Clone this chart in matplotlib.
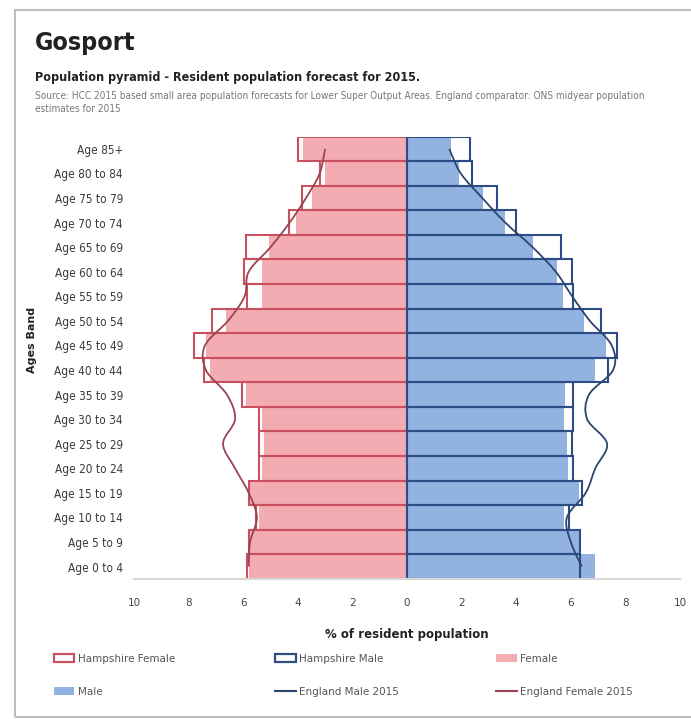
import numpy as np
import matplotlib
matplotlib.use("Agg")
import matplotlib.pyplot as plt
from matplotlib.path import Path
from matplotlib.patches import PathPatch, Patch, Rectangle
from matplotlib.lines import Line2D

# -----------------------------
# Data (top row = oldest band)
# -----------------------------
age_bands = ["Age 85+", "Age 80 to 84", "Age 75 to 79", "Age 70 to 74",
             "Age 65 to 69", "Age 60 to 64", "Age 55 to 59", "Age 50 to 54",
             "Age 45 to 49", "Age 40 to 44", "Age 35 to 39", "Age 30 to 34",
             "Age 25 to 29", "Age 20 to 24", "Age 15 to 19", "Age 10 to 14",
             "Age 5 to 9", "Age 0 to 4"]

gosport_female = [3.8, 3.0, 3.47, 4.08, 5.05, 5.3, 5.3, 6.64, 7.37, 7.2,
                  5.9, 5.3, 5.25, 5.3, 5.75, 5.42, 5.75, 5.8]
gosport_male = [1.6, 1.9, 2.8, 3.6, 4.6, 5.5, 5.7, 6.5, 7.3, 6.9,
                5.8, 5.75, 5.85, 5.9, 6.3, 5.75, 6.3, 6.9]

hampshire_female = [4.0, 3.2, 3.84, 4.32, 5.9, 5.97, 5.85, 7.13, 7.8, 7.45,
                    6.04, 5.42, 5.42, 5.42, 5.79, 5.54, 5.79, 5.86]
hampshire_male = [2.3, 2.38, 3.3, 4.0, 5.65, 6.05, 6.1, 7.1, 7.7, 7.35,
                  6.1, 6.1, 6.05, 6.1, 6.4, 5.95, 6.35, 6.35]

england_female = [3.0, 3.2, 3.7, 4.3, 5.0, 5.8, 5.95, 6.56, 7.4, 7.37,
                  6.6, 6.3, 6.74, 6.3, 5.8, 5.5, 5.75, 5.8]
england_male = [1.55, 1.97, 2.76, 3.6, 4.6, 5.45, 6.05, 6.7, 7.5, 7.55,
                6.67, 6.6, 7.33, 6.9, 6.55, 5.86, 6.0, 6.4]

x_ticks = [-10, -8, -6, -4, -2, 0, 2, 4, 6, 8, 10]

# colours
pink_fill = "#f3adb2"
blue_fill = "#92b3e0"
hants_f_edge = "#c9505f"
hants_m_edge = "#2e4d86"
eng_m_col = "#2b4470"
eng_f_col = "#9a4452"

narrow = dict(family="DejaVu Sans", fontstretch="condensed")


def smooth_path(xs, ys):
    # Catmull-Rom style bezier through the points (like Excel smoothed line)
    pts = np.column_stack([xs, ys])
    verts = [pts[0]]
    codes = [Path.MOVETO]
    n = len(pts)
    for i in range(n - 1):
        p0 = pts[i - 1] if i > 0 else pts[i]
        p1 = pts[i]
        p2 = pts[i + 1]
        p3 = pts[i + 2] if i + 2 < n else pts[i + 1]
        verts += [p1 + (p2 - p0) / 6, p2 - (p3 - p1) / 6, p2]
        codes += [Path.CURVE4] * 3
    return Path(verts, codes)


# -----------------------------
# Plot
# -----------------------------
fig = plt.figure(figsize=(6.91, 7.19), dpi=100)
ax = fig.add_axes([0.194, 0.195, 0.79, 0.615])

y = np.arange(len(age_bands))
gf = -np.array(gosport_female)
gm = np.array(gosport_male)

ax.barh(y, gf, height=1.0, color=pink_fill, edgecolor="none", zorder=1)
ax.barh(y, gm, height=1.0, color=blue_fill, edgecolor="none", zorder=1)

ax.barh(y, -np.array(hampshire_female), height=1.0, facecolor="none",
        edgecolor=hants_f_edge, linewidth=1.5, zorder=2)
ax.barh(y, hampshire_male, height=1.0, facecolor="none",
        edgecolor=hants_m_edge, linewidth=1.5, zorder=2)

ax.add_patch(PathPatch(smooth_path(-np.array(england_female), y), fill=False,
                       edgecolor=eng_f_col, linewidth=1.3, zorder=3))
ax.add_patch(PathPatch(smooth_path(np.array(england_male), y), fill=False,
                       edgecolor=eng_m_col, linewidth=1.3, zorder=3))

ax.set_xlim(-10, 10)
ax.set_ylim(len(age_bands) - 0.5, -0.5)
ax.set_yticks(y)
ax.set_yticklabels(age_bands, fontsize=8.5, color="#3a3a3a", **narrow)
ax.set_xticks(x_ticks)
ax.set_xticklabels([str(abs(t)) for t in x_ticks], fontsize=7.5, color="#444444")
ax.tick_params(axis="x", length=0, pad=14)
ax.tick_params(axis="y", length=0, pad=8)

for s in ["top", "right", "left"]:
    ax.spines[s].set_visible(False)
ax.spines["bottom"].set_color("#d8d8d8")
ax.spines["bottom"].set_linewidth(1.5)

ax.set_xlabel("% of resident population", fontsize=8.5, fontweight="bold",
              color="#222222", labelpad=14)
fig.text(0.046, 0.527, "Ages Band", rotation=90, fontsize=8, fontweight="bold",
         ha="center", va="center", color="#222222")

# -----------------------------
# Titles
# -----------------------------
fig.text(0.05, 0.94, "Gosport", fontsize=18, fontweight="bold", va="center",
         color="#222222", **narrow)
fig.text(0.05, 0.892, "Population pyramid - Resident population forecast for 2015.",
         fontsize=9, fontweight="bold", va="center", color="#222222", **narrow)
fig.text(0.05, 0.867,
         "Source: HCC 2015 based small area population forecasts for Lower Super Output Areas. "
         "England comparator: ONS midyear population",
         fontsize=7.2, va="center", color="#777777", **narrow)
fig.text(0.05, 0.848, "estimates for 2015", fontsize=7.2, va="center", color="#777777",
         **narrow)

# -----------------------------
# Legend (3 columns)
# -----------------------------
h_hf = Patch(facecolor="white", edgecolor=hants_f_edge, linewidth=1.6)
h_hm = Patch(facecolor="white", edgecolor=hants_m_edge, linewidth=1.6)
h_f = Patch(facecolor=pink_fill, edgecolor="none")
h_m = Patch(facecolor=blue_fill, edgecolor="none")
h_em = Line2D([], [], color=eng_m_col, linewidth=1.5)
h_ef = Line2D([], [], color=eng_f_col, linewidth=1.5)

cols = [([h_hf, h_m], ["Hampshire Female", "Male"], 0.07),
        ([h_hm, h_em], ["Hampshire Male", "England Male 2015"], 0.39),
        ([h_f, h_ef], ["Female", "England Female 2015"], 0.71)]
for handles, labels, xpos in cols:
    fig.legend(handles, labels, loc="upper left", bbox_to_anchor=(xpos, 0.098),
               frameon=False, fontsize=7.5, labelcolor="#555555",
               handlelength=2.0, handletextpad=0.3, labelspacing=2.2,
               borderpad=0)

fig.patches.append(Rectangle((0.022, 0.003), 0.99, 0.983, transform=fig.transFigure,
                             fill=False, edgecolor="#bdbdbd", linewidth=1.5))

fig.savefig("out.png", dpi=100)
